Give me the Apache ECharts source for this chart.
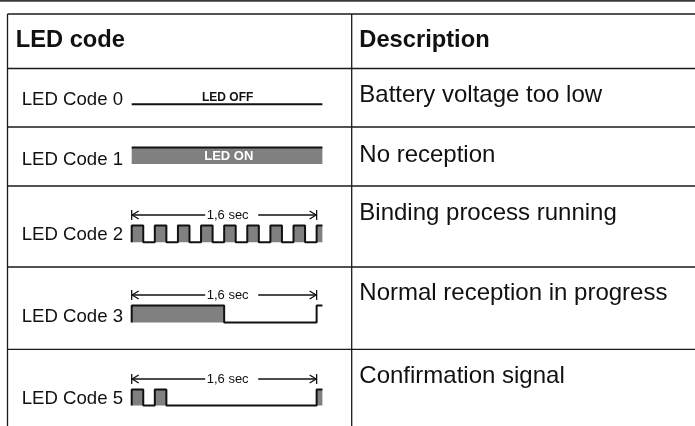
<!DOCTYPE html>
<html>
<head>
<meta charset="utf-8">
<script src="https://cdn.jsdelivr.net/npm/echarts@6/dist/echarts.min.js"></script>
<style>
html, body { margin: 0; padding: 0; background: #fff; }
#chart { width: 695px; height: 426px; }
</style>
</head>
<body>
<div id="chart"></div>
<script>
// table content
const headers = ['LED code', 'Description'];
const codeLabels = ['LED Code 0', 'LED Code 1', 'LED Code 2', 'LED Code 3', 'LED Code 5'];
const descriptions = ['Battery voltage too low', 'No reception', 'Binding process running', 'Normal reception in progress', 'Confirmation signal'];
const stateLabels = ['LED OFF', 'LED ON'];
const spanLabel = '1,6 sec';
const spanSec = 1.6;
const timeMax = 1.65;

// LED level changes: [time (s), level] — level holds until the next point
const code0Wave = [[0, 0], [1.65, 0]];
const code1Wave = [[0, 1], [1.65, 1]];
const code2Wave = [[0, 0], [0, 1], [0.1, 0], [0.2, 1], [0.3, 0], [0.4, 1], [0.5, 0], [0.6, 1], [0.7, 0], [0.8, 1], [0.9, 0], [1.0, 1], [1.1, 0], [1.2, 1], [1.3, 0], [1.4, 1], [1.5, 0], [1.6, 1], [1.65, 1]];
const code3Wave = [[0, 0], [0, 1], [0.8, 0], [1.6, 1], [1.65, 1]];
const code3Fill = [[0, 0], [0, 1], [0.8, 0], [1.65, 0]];
const code5Wave = [[0, 0], [0, 1], [0.1, 0], [0.2, 1], [0.3, 0], [1.6, 1], [1.65, 1]];

const waves = [code0Wave, code1Wave, code2Wave, code3Wave, code5Wave];
const fills = [code0Wave, code1Wave, code2Wave, code3Fill, code5Wave];
const hasSpan = [false, false, true, true, true];

// layout
const FONT = "'Liberation Sans', Arial, sans-serif";
const waveLeft = 131.7;
const waveWidth = 190.7;
const gridTops = [88, 147.5, 225.5, 305.5, 389.5];
const gridHeights = [16.3, 16.5, 16.7, 17, 16];
const rowLines = [14, 68.5, 127, 186, 267, 349.3];
const codeBaselines = [106.7, 166, 241.7, 323.3, 405];
const descBaselines = [104, 163.3, 221.7, 301.7, 385];

const chart = echarts.init(document.getElementById('chart'), null, { renderer: 'canvas' });

const grid = [], xAxis = [], yAxis = [], series = [];
waves.forEach((w, i) => {
    grid.push({ left: waveLeft, top: gridTops[i], width: waveWidth, height: gridHeights[i] });
    xAxis.push({ type: 'value', gridIndex: i, min: 0, max: timeMax, show: false });
    yAxis.push({ type: 'value', gridIndex: i, min: 0, max: 1, show: false });
    series.push({
        type: 'line', xAxisIndex: i, yAxisIndex: i, step: 'end', data: fills[i],
        showSymbol: false, silent: true, clip: false,
        lineStyle: { opacity: 0 },
        areaStyle: { color: '#808080', opacity: 1 }
    });
    series.push({
        type: 'line', xAxisIndex: i, yAxisIndex: i, step: 'end', data: w,
        showSymbol: false, silent: true, clip: false, z: 3,
        lineStyle: { color: '#111', width: 2 }
    });
});

chart.setOption({
    backgroundColor: '#fff',
    animation: false,
    grid, xAxis, yAxis, series
});

// text helper: place by baseline
function txt(x, base, s, size, opt) {
    opt = opt || {};
    return {
        type: 'text', z: 100, silent: true,
        style: {
            x: x, y: base - size * 0.35, text: s,
            font: (opt.bold ? 'bold ' : '') + size + 'px ' + FONT,
            fill: opt.color || '#111',
            align: opt.align || 'left', verticalAlign: 'middle'
        }
    };
}
function seg(x1, y1, x2, y2, w, c) {
    return { type: 'line', z: 50, silent: true, shape: { x1, y1, x2, y2 }, style: { stroke: c || '#1a1a1a', lineWidth: w || 1.3 } };
}

const g = [];
g.push({ type: 'rect', silent: true, shape: { x: 0, y: 0, width: 695, height: 1.8 }, style: { fill: '#3a3a3a' } });
rowLines.forEach(y => g.push(seg(7.5, y, 695, y)));
g.push(seg(7.5, 14, 7.5, 426));
g.push(seg(351.7, 14, 351.7, 426));

g.push(txt(15.7, 49, headers[0], 23.7, { bold: true }));
g.push(txt(359.3, 49, headers[1], 23.7, { bold: true }));
codeLabels.forEach((s, i) => g.push(txt(21.7, codeBaselines[i], s, 18.6)));
descriptions.forEach((s, i) => g.push(txt(359.3, descBaselines[i], s, 24)));

// state labels on the first two rows
const offPt = chart.convertToPixel({ gridIndex: 0 }, [0.83, 0]);
g.push(txt(offPt[0], offPt[1] - 2.6, stateLabels[0], 12, { bold: true, align: 'center' }));
const onPt = chart.convertToPixel({ gridIndex: 1 }, [0.84, 0]);
g.push(txt(onPt[0], onPt[1] - 3, stateLabels[1], 13, { bold: true, align: 'center', color: '#fff' }));

// 1,6 sec dimension arrows
hasSpan.forEach((on, i) => {
    if (!on) return;
    const p0 = chart.convertToPixel({ gridIndex: i }, [0, 1]);
    const p1 = chart.convertToPixel({ gridIndex: i }, [spanSec, 1]);
    const y = p0[1] - 10.5;
    const x0 = p0[0], x1 = p1[0];
    g.push(seg(x0, y, x0 + 73.5, y, 1.3, '#111'));
    g.push(seg(x0 + 126.5, y, x1, y, 1.3, '#111'));
    g.push(seg(x0, y - 5, x0, y + 5, 1.3, '#111'));
    g.push(seg(x1, y - 5, x1, y + 5, 1.3, '#111'));
    g.push({ type: 'polyline', z: 50, silent: true, shape: { points: [[x0 + 7, y - 4], [x0 + 0.5, y], [x0 + 7, y + 4]] }, style: { stroke: '#111', lineWidth: 1.3, fill: null } });
    g.push({ type: 'polyline', z: 50, silent: true, shape: { points: [[x1 - 7, y - 4], [x1 - 0.5, y], [x1 - 7, y + 4]] }, style: { stroke: '#111', lineWidth: 1.3, fill: null } });
    g.push({
        type: 'text', z: 100, silent: true,
        style: { x: x0 + 75, y: y, text: spanLabel, font: '13px ' + FONT, fill: '#111', align: 'left', verticalAlign: 'middle' }
    });
});

chart.setOption({ graphic: g });
</script>
</body>
</html>
